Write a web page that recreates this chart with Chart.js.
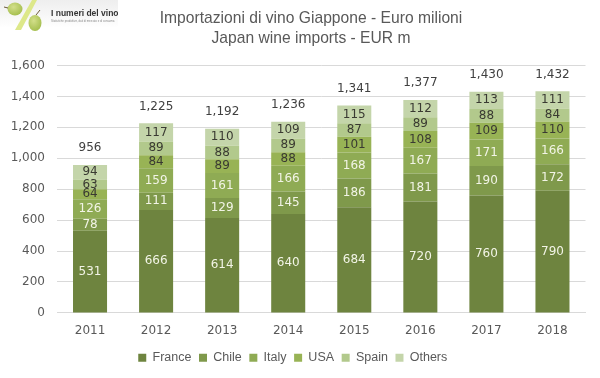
<!DOCTYPE html>
<html>
<head>
<meta charset="utf-8">
<script src="https://cdn.jsdelivr.net/npm/chart.js@4"></script>
<style>
  html, body { margin: 0; padding: 0; background: #fff; }
  #wrap { position: relative; width: 600px; height: 378px; }
  #logo { position: absolute; left: 0; top: 0; }
</style>
</head>
<body>
<div id="wrap">
  <canvas id="wineChart" width="600" height="378"></canvas>
  <svg id="logo" width="118" height="33" viewBox="0 0 118 33">
    <defs>
      <linearGradient id="logoBg" x1="0" y1="0" x2="0" y2="1">
        <stop offset="0" stop-color="#eeeeee"/>
        <stop offset="1" stop-color="#ffffff"/>
      </linearGradient>
      <radialGradient id="grape" cx="0.4" cy="0.35" r="0.7">
        <stop offset="0" stop-color="#d3df8a"/>
        <stop offset="1" stop-color="#a3bd4c"/>
      </radialGradient>
    </defs>
    <rect width="118" height="28" fill="url(#logoBg)"/>
    <polygon points="32,0 37,0 21,30 15,30" fill="#dde88a"/>
    <ellipse cx="15" cy="9" rx="7.5" ry="6.5" fill="url(#grape)"/>
    <ellipse cx="35" cy="23" rx="6.5" ry="8" fill="url(#grape)"/>
    <path d="M8 8 L4 7 M36 15 L40 10" stroke="#6b5a3a" stroke-width="1"/>
    <text x="51" y="15.5" font-family="Liberation Sans" font-size="8.5" font-weight="bold" fill="#333">I numeri del vino</text>
    <text x="51" y="21.5" font-family="Liberation Sans" font-size="2.8" fill="#888">Statistiche produttive, dati di mercato e di consumo.</text>
  </svg>
</div>
<script>
const years = ["2011", "2012", "2013", "2014", "2015", "2016", "2017", "2018"];
const france = [531, 666, 614, 640, 684, 720, 760, 790];
const chile = [78, 111, 129, 145, 186, 181, 190, 172];
const italy = [126, 159, 161, 166, 168, 167, 171, 166];
const usa = [64, 84, 89, 88, 101, 108, 109, 110];
const spain = [63, 89, 88, 89, 87, 89, 88, 84];
const others = [94, 117, 110, 109, 115, 112, 113, 111];
const totals = [956, 1225, 1192, 1236, 1341, 1377, 1430, 1432];
const titleLines = ["Importazioni di vino Giappone - Euro milioni", "Japan wine imports - EUR m"];

const lightLabel = "#f2f4e6";
const darkLabel = "#3a3a32";

function series(label, data, color, labelColor) {
  return { label, data, backgroundColor: color, labelColor, borderWidth: 0,
    categoryPercentage: 1, barPercentage: 34 / 66 };
}

// segment values, totals above the stacks, and the off-centre title
const barLabels = {
  id: "barLabels",
  afterDatasetsDraw(chart) {
    const ctx = chart.ctx;
    ctx.save();
    ctx.font = "12px 'DejaVu Sans'";
    ctx.textAlign = "center";
    ctx.textBaseline = "middle";
    chart.data.datasets.forEach((ds, i) => {
      chart.getDatasetMeta(i).data.forEach((bar, j) => {
        const p = bar.getProps(["x", "y", "base"], true);
        ctx.fillStyle = ds.labelColor;
        ctx.fillText(ds.data[j], p.x, (p.y + p.base) / 2);
      });
    });
    const xs = chart.scales.x, ys = chart.scales.y;
    ctx.fillStyle = "#404040";
    totals.forEach((t, j) => {
      ctx.fillText(t.toLocaleString("en-US"), xs.getPixelForValue(j), ys.getPixelForValue(t) - 17);
    });
    // title is condensed in the original, squeeze it horizontally
    ctx.fillStyle = "#595959";
    ctx.font = "17px 'Liberation Sans'";
    ctx.translate(311, 0);
    ctx.scale(0.92, 1);
    titleLines.forEach((line, k) => ctx.fillText(line, 0, 18 + k * 20));
    ctx.restore();
  }
};

new Chart("wineChart", {
  type: "bar",
  data: {
    labels: years,
    datasets: [
      series("France", france, "#6e843f", lightLabel),
      series("Chile", chile, "#7f994b", lightLabel),
      series("Italy", italy, "#8fab54", lightLabel),
      series("USA", usa, "#98b355", darkLabel),
      series("Spain", spain, "#b2c98c", darkLabel),
      series("Others", others, "#c4d5aa", darkLabel)
    ]
  },
  options: {
    responsive: false,
    animation: false,
    layout: { padding: { left: 0, right: 14.5, top: 65.5, bottom: 4 } },
    scales: {
      x: {
        stacked: true,
        grid: { display: false },
        border: { color: "#d9d9d9" },
        ticks: { color: "#595959", padding: 3, font: { family: "DejaVu Sans", size: 12 } },
        afterFit(axis) { axis.height = 31; }
      },
      y: {
        stacked: true,
        min: 0,
        max: 1600,
        grid: { color: "#d9d9d9", drawTicks: false },
        border: { display: false },
        ticks: { stepSize: 200, color: "#595959", padding: 12, font: { family: "DejaVu Sans", size: 12 },
          callback: v => v.toLocaleString("en-US") },
        afterFit(axis) { axis.width = 57; }
      }
    },
    plugins: {
      tooltip: { enabled: false },
      title: { display: false },
      legend: {
        position: "bottom",
        labels: { boxWidth: 8, boxHeight: 8, padding: 7.6, color: "#595959", font: { family: "Liberation Sans", size: 12.5 } }
      }
    }
  },
  plugins: [barLabels]
});
</script>
</body>
</html>
